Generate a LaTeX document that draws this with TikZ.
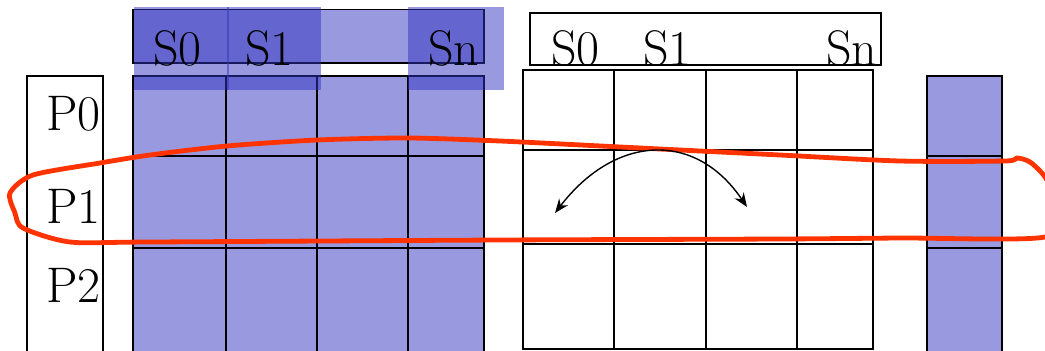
\documentclass[tikz,border=0pt]{standalone}
\usetikzlibrary{arrows.meta}
\definecolor{lblue}{RGB}{153,153,224}
\definecolor{dblue}{RGB}{51,51,193}
\definecolor{redline}{RGB}{255,51,0}
\tikzset{
  lbl/.style={anchor=base west, inner sep=0pt, font=\rmfamily\fontsize{50}{60}\selectfont},
  gridline/.style={line width=1.5pt, black},
  boxline/.style={line width=1.3pt, black},
  overlay/.style={fill=dblue, fill opacity=0.5},
  loop/.style={draw=redline, line width=4.8pt, line join=round},
  swap/.style={line width=1.4pt, {Stealth[length=14pt,width=11pt,inset=4.5pt]}-{Stealth[length=14pt,width=11pt,inset=4.5pt]}}
}
\begin{document}
\begin{tikzpicture}[x=1pt,y=-1pt]
\useasboundingbox (0,0) rectangle (1045,351);
\clip (0,0) rectangle (1045,351);

% P column
\draw[boxline] (27,360) -- (27,76) -- (103,76) -- (103,360);

% left grid
\fill[lblue] (133,76) rectangle (484,360);
\draw[gridline] (133,360) -- (133,76) -- (484,76) -- (484,360);
\foreach \x in {226,317,408} \draw[gridline] (\x,76) -- (\x,360);
\foreach \y in {156,248} \draw[gridline] (133,\y) -- (484,\y);

% left header
\draw[boxline, fill=lblue] (133,9.5) rectangle (484,63);
\fill[overlay] (134,7) rectangle (229,90);
\fill[overlay] (227,7) rectangle (321,90);
\fill[overlay] (408,7) rectangle (504,90);

% right header
\draw[boxline] (530,13) rectangle (881,65);

% right grid
\draw[gridline] (523,70) rectangle (873,349);
\foreach \x in {614,706,797} \draw[gridline] (\x,70) -- (\x,349);
\draw[gridline, line width=1.9pt] (523,150) -- (873,150);
\draw[gridline] (523,244) -- (873,244);

% blue column
\fill[lblue] (927,76) rectangle (1002,360);
\draw[gridline] (927,360) -- (927,76) -- (1002,76) -- (1002,360);
\foreach \y in {156,248} \draw[gridline] (927,\y) -- (1002,\y);

% labels
\node[lbl] (p0) at (46,130) {P0};
\node[lbl] (p1) at (46,223) {P1};
\node[lbl] (p2) at (46,302) {P2};
\node[lbl] (ls0) at (153,65) {S0};
\node[lbl] (ls1) at (245,65) {S1};
\node[lbl] (lsn) at (428,65) {Sn};
\node[lbl] (rs0) at (551,65) {S0};
\node[lbl] (rs1) at (643,65) {S1};
\node[lbl] (rsn) at (826,65) {Sn};

% red loop
\draw[loop] plot[smooth cycle, tension=0.45] coordinates {
  (10,193) (33,175) (100,163) (150,155) (227,146) (317,140) (408,138)
  (500,141) (640,148) (780,155) (900,161) (1005,161) (1017,158) (1030,162)
  (1045,177) (1058,205) (1045,237) (900,238) (780,239) (500,240) (150,242)
  (70,242) (23,228) (15,213)};

% swap arc
\coordinate (arcL) at (555,213);
\coordinate (arcR) at (747,207);
\draw[swap] (arcL) .. controls (615,135) and (695,130) .. (arcR);
\end{tikzpicture}
\end{document}
